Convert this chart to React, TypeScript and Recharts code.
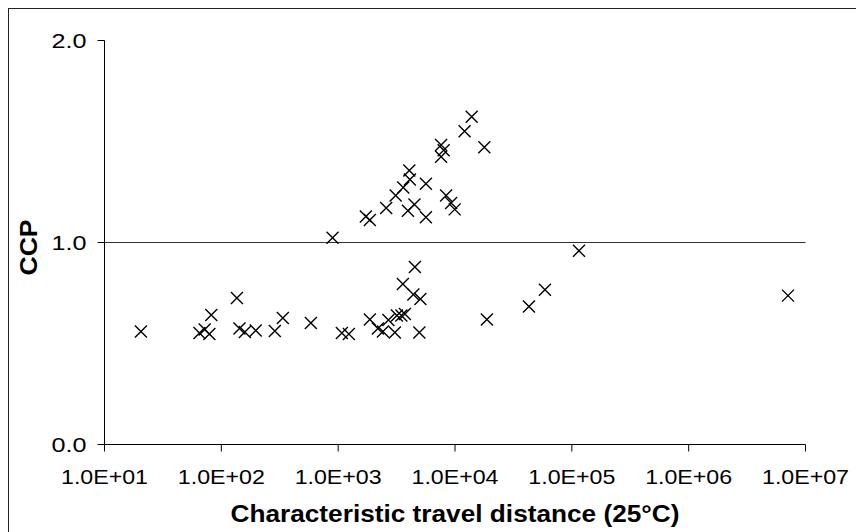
import { ScatterChart, Scatter, XAxis, YAxis, ReferenceLine } from "recharts";

// characteristic travel distance (25°C), one value per sample
const distances = [
  20.5, 65, 72, 79, 82, 136, 143, 159, 197, 287, 336, 584, 1076, 1235,
  1867, 2188, 2415, 2690, 3057, 3183, 3475, 3726, 4955, 3580, 4536, 4403, 5057,
  18750, 42950, 58880, 115100, 7080000,
  895, 1726, 1867, 2576, 3106, 3605, 4063, 4111, 3953, 4499, 5636, 5636,
  7603, 8000, 7603, 8390, 9265, 9940, 12080, 13900, 17820,
];

// CCP for the same samples
const ccpValues = [
  0.559, 0.552, 0.569, 0.547, 0.641, 0.725, 0.574, 0.557, 0.564, 0.562, 0.626, 0.601, 0.552, 0.547,
  0.619, 0.574, 0.559, 0.616, 0.554, 0.639, 0.639, 0.646, 0.554, 0.795, 0.879, 0.743, 0.72,
  0.619, 0.683, 0.766, 0.959, 0.737,
  1.023, 1.129, 1.111, 1.171, 1.233, 1.272, 1.356, 1.312, 1.157, 1.188, 1.291, 1.125,
  1.483, 1.457, 1.424, 1.233, 1.196, 1.164, 1.551, 1.623, 1.472,
];

const xTicks = [10, 100, 1000, 10000, 100000, 1000000, 10000000];
const yTicks = [0, 1, 2];

const points = distances.map((d, i) => ({ x: d, y: ccpValues[i] }));

const FONT = "'Liberation Sans', Arial, sans-serif";

const expLabel = (v: number) => {
  const e = Math.round(Math.log10(v));
  return "1.0E+" + String(e).padStart(2, "0");
};

const XTick = ({ x, y, payload }: any) => (
  <text
    x={x}
    y={y}
    dy={30.5}
    textAnchor="middle"
    fontFamily={FONT}
    fontSize={20}
    fill="#000"
    textLength={87}
    lengthAdjust="spacingAndGlyphs"
  >
    {expLabel(payload.value)}
  </text>
);

const YTick = ({ x, y, payload }: any) => (
  <text
    x={x}
    y={y}
    dx={-9}
    dy={7}
    textAnchor="end"
    fontFamily={FONT}
    fontSize={20}
    fill="#000"
    textLength={35}
    lengthAdjust="spacingAndGlyphs"
  >
    {payload.value.toFixed(1)}
  </text>
);

const Cross = ({ cx, cy }: any) => (
  <path
    d={`M${cx - 6},${cy - 6}L${cx + 6},${cy + 6}M${cx + 6},${cy - 6}L${cx - 6},${cy + 6}`}
    stroke="#000"
    strokeWidth={1.4}
    fill="none"
  />
);

export default function App() {
  return (
    <div
      style={{
        width: 856,
        height: 524,
        borderTop: "1px solid #222",
        borderLeft: "1px solid #222",
        background: "#fff",
        overflow: "hidden",
      }}
    >
      <ScatterChart
        width={855}
        height={523}
        margin={{ top: 31.5, right: 58.5, left: 35.5, bottom: 27.5 }}
      >
        <XAxis
          type="number"
          dataKey="x"
          scale="log"
          domain={[10, 10000000]}
          ticks={xTicks}
          interval={0}
          allowDataOverflow
          height={60}
          tickSize={7}
          stroke="#000"
          tickLine={{ stroke: "#000" }}
          tick={<XTick />}
          label={{
            content: ({ viewBox }: any) => (
              <text
                x={viewBox.x + viewBox.width / 2}
                y={viewBox.y + 77.5}
                textAnchor="middle"
                fontFamily={FONT}
                fontSize={23}
                fontWeight="bold"
                fill="#000"
                textLength={449}
                lengthAdjust="spacingAndGlyphs"
              >
                Characteristic travel distance (25°C)
              </text>
            ),
          }}
        />
        <YAxis
          type="number"
          dataKey="y"
          domain={[0, 2]}
          ticks={yTicks}
          interval={0}
          width={60}
          tickSize={7}
          stroke="#000"
          tickLine={{ stroke: "#000" }}
          tick={<YTick />}
          label={{
            content: ({ viewBox }: any) => (
              <text
                transform={`translate(${viewBox.x - 7.8}, ${viewBox.y + 207})`+" rotate(-90)"}
                textAnchor="middle"
                fontFamily={FONT}
                fontSize={24}
                fontWeight="bold"
                fill="#000"
                textLength={56}
                lengthAdjust="spacingAndGlyphs"
              >
                CCP
              </text>
            ),
          }}
        />
        <ReferenceLine y={1} stroke="#333" strokeWidth={1} />
        <Scatter data={points} shape={<Cross />} isAnimationActive={false} />
      </ScatterChart>
    </div>
  );
}
